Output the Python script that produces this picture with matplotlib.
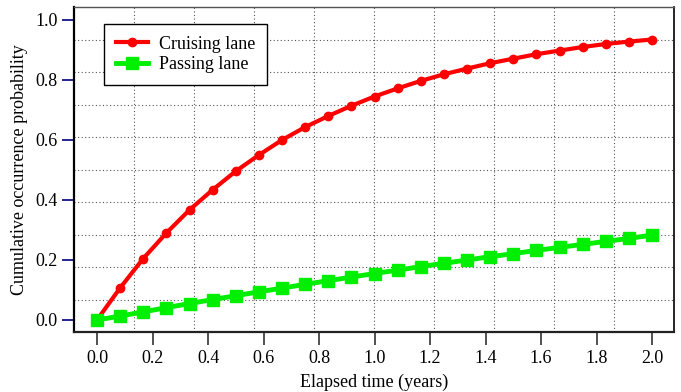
import numpy as np
import matplotlib
matplotlib.use("Agg")
import matplotlib.pyplot as plt

# elapsed time in years (monthly steps)
months = np.arange(25)
time_years = months / 12.0

cruising = [0.000, 0.107, 0.205, 0.290, 0.367, 0.434, 0.496, 0.550, 0.600,
            0.643, 0.680, 0.714, 0.745, 0.772, 0.797, 0.819, 0.838, 0.856,
            0.871, 0.886, 0.898, 0.910, 0.920, 0.928, 0.935]
passing = [0.000, 0.013, 0.027, 0.041, 0.055, 0.068, 0.081, 0.094, 0.106,
           0.119, 0.131, 0.143, 0.155, 0.166, 0.178, 0.189, 0.200, 0.211,
           0.221, 0.232, 0.242, 0.252, 0.262, 0.272, 0.283]

xticks = [0.0, 0.2, 0.4, 0.6, 0.8, 1.0, 1.2, 1.4, 1.6, 1.8, 2.0]
yticks = [0.0, 0.2, 0.4, 0.6, 0.8, 1.0]

plt.rcParams['font.family'] = ['Liberation Serif', 'DejaVu Serif']
plt.rcParams['font.size'] = 13

fig = plt.figure(figsize=(6.81, 3.92), dpi=100)
ax = fig.add_axes([74/681, 1-332/392, 600/681, 325/392])

# grid divides the frame into 10 equal parts (not tied to ticks)
for f in np.arange(1, 10) / 10.0:
    ax.plot([f, f], [0, 1], transform=ax.transAxes, color='#555555',
            ls=(0, (1, 2.2)), lw=0.8, zorder=0)
    ax.plot([0, 1], [f, f], transform=ax.transAxes, color='#555555',
            ls=(0, (1, 2.2)), lw=0.8, zorder=0)

ax.plot(time_years, cruising, color='#ff0000', lw=3, marker='o', ms=6,
        label='Cruising lane', zorder=3)
ax.plot(time_years, passing, color='#00ee00', lw=3.5, marker='s', ms=9,
        label='Passing lane', zorder=3)

ax.set_xlim(-23/277.5, 577/277.5)
ax.set_ylim(-0.04, 313/300)
ax.set_xticks(xticks)
ax.set_yticks(yticks)
ax.set_xticklabels(['%.1f' % v for v in xticks])
ax.set_yticklabels(['%.1f' % v for v in yticks])

ax.tick_params(axis='y', direction='out', length=9, width=1.2,
               color='#000080', pad=3)
ax.tick_params(axis='x', direction='out', length=9, width=1.2,
               color='#333333', pad=4)

ax.spines['left'].set_linewidth(1.6)
ax.spines['bottom'].set_linewidth(1.6)
ax.spines['bottom'].set_color('#222222')
ax.spines['top'].set_linewidth(1.0)
ax.spines['top'].set_color('#555555')
ax.spines['right'].set_linewidth(1.2)

ax.set_xlabel('Elapsed time (years)', labelpad=5)
ax.set_ylabel('Cumulative occurrence probability', labelpad=5)

leg = ax.legend(loc='upper left', bbox_to_anchor=(0.05, 0.948),
                borderaxespad=0, fancybox=False, framealpha=1,
                edgecolor='black', handlelength=1.8, handletextpad=0.6,
                borderpad=0.65, labelspacing=0.2, numpoints=1)
leg.get_frame().set_linewidth(1.0)

fig.savefig('out.png', dpi=100)
